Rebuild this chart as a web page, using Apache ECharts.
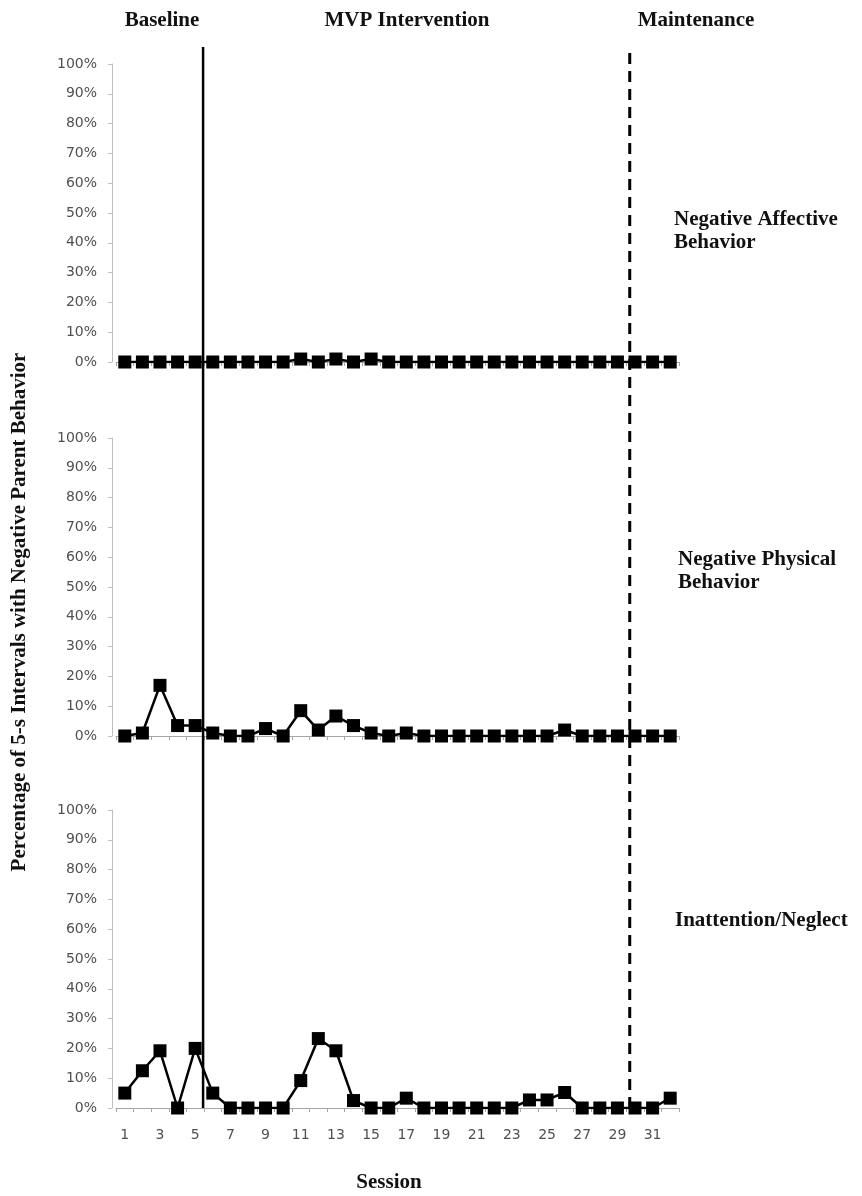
<!DOCTYPE html>
<html>
<head>
<meta charset="utf-8">
<title>Negative Parent Behavior by Session</title>
<script src="https://cdn.jsdelivr.net/npm/echarts@6/dist/echarts.min.js"></script>
<style>
  html, body { margin: 0; padding: 0; background: #fff; }
  #chart { width: 862px; height: 1196px; }
</style>
</head>
<body>
<div id="chart"></div>
<script>
// Sessions 1..32
const sessions = Array.from({ length: 32 }, (_, i) => String(i + 1));

// Percentage of 5-s intervals per session
const negativeAffective = [
  0, 0, 0, 0, 0, 0, 0, 0, 0, 0,
  1, 0, 1, 0, 1, 0, 0, 0, 0, 0,
  0, 0, 0, 0, 0, 0, 0, 0, 0, 0,
  0, 0
];
const negativePhysical = [
  0, 1, 17, 3.5, 3.5, 1, 0, 0, 2.5, 0,
  8.5, 2, 6.7, 3.5, 1, 0, 1, 0, 0, 0,
  0, 0, 0, 0, 0, 2, 0, 0, 0, 0,
  0, 0
];
const inattentionNeglect = [
  5, 12.5, 19.2, 0, 20, 5, 0, 0, 0, 0,
  9.2, 23.3, 19.2, 2.5, 0, 0, 3.3, 0, 0, 0,
  0, 0, 0, 2.7, 2.7, 5.2, 0, 0, 0, 0,
  0, 3.3
];

// Phase-change boundaries (in session units)
const phaseChangeIntervention = 5.45;
const phaseChangeMaintenance = 29.7;

const panelLabels = ['Negative Affective\nBehavior', 'Negative Physical\nBehavior', 'Inattention/Neglect'];
const phaseTitles = ['Baseline', 'MVP Intervention', 'Maintenance'];

const SERIF = '"Liberation Serif", "Times New Roman", serif';
const SANS = '"DejaVu Sans", Verdana, sans-serif';
const TICK_COLOR = '#505050';

const panels = [
  { top: 64, height: 298, data: negativeAffective },
  { top: 438, height: 298, data: negativePhysical },
  { top: 810, height: 298, data: inattentionNeglect }
];
const GRID_LEFT = 116;
const GRID_WIDTH = 563;

const grids = panels.map(p => ({ left: GRID_LEFT, width: GRID_WIDTH, top: p.top, height: p.height }));
// Overlay grid for the phase-change lines spanning all panels
grids.push({ left: GRID_LEFT, width: GRID_WIDTH, top: 47, height: 1108 - 47 });

const xAxes = panels.map((p, i) => ({
  type: 'category',
  gridIndex: i,
  data: sessions,
  boundaryGap: true,
  axisLine: { show: true, lineStyle: { color: '#a6a6a6', width: 1 } },
  axisTick: { show: true, interval: 0, length: 4, lineStyle: { color: '#a6a6a6' } },
  axisLabel: i === 2
    ? { show: true, interval: 1, margin: 20, color: TICK_COLOR, fontFamily: SANS, fontSize: 14 }
    : { show: false },
  splitLine: { show: false }
}));
xAxes.push({ type: 'value', gridIndex: 3, min: 0.5, max: 32.5, show: false });

const yAxes = panels.map((p, i) => ({
  type: 'value',
  gridIndex: i,
  min: 0,
  max: 100,
  interval: 10,
  offset: 4,
  axisLine: { show: true, lineStyle: { color: '#bfbfbf', width: 1 } },
  axisTick: { show: true, length: 4, lineStyle: { color: '#bfbfbf' } },
  axisLabel: { formatter: '{value}%', margin: 15, color: TICK_COLOR, fontFamily: SANS, fontSize: 14 },
  splitLine: { show: false }
}));
yAxes.push({ type: 'value', gridIndex: 3, min: 0, max: 1, show: false });

const series = panels.map((p, i) => ({
  type: 'line',
  xAxisIndex: i,
  yAxisIndex: i,
  data: p.data,
  symbol: 'rect',
  symbolSize: 13,
  showSymbol: true,
  showAllSymbol: true,
  itemStyle: { color: '#000' },
  lineStyle: { color: '#000', width: 2.5 },
  silent: true,
  z: 3
}));
series.push({
  type: 'line',
  xAxisIndex: 3,
  yAxisIndex: 3,
  data: [[phaseChangeIntervention, 0], [phaseChangeIntervention, 1]],
  symbol: 'none',
  lineStyle: { color: '#000', width: 2.5 },
  silent: true,
  z: 5
});
series.push({
  type: 'line',
  xAxisIndex: 3,
  yAxisIndex: 3,
  data: [[phaseChangeMaintenance, 0], [phaseChangeMaintenance, 1]],
  symbol: 'none',
  lineStyle: { color: '#000', width: 3, type: [11, 7] },
  silent: true,
  z: 5
});

function label(text, x, y, opts) {
  return {
    type: 'text',
    x: x,
    y: y,
    silent: true,
    style: Object.assign({
      text: text,
      font: 'bold 21px ' + SERIF,
      fill: '#111',
      textAlign: 'center',
      textVerticalAlign: 'middle',
      verticalAlign: 'middle'
    }, opts || {})
  };
}

const graphics = [
  label(phaseTitles[0], 162, 21),
  label(phaseTitles[1], 407, 21),
  label(phaseTitles[2], 696, 21),
  label(panelLabels[0], 674, 208, { textAlign: 'left', textVerticalAlign: 'top', verticalAlign: 'top', lineHeight: 23 }),
  label(panelLabels[1], 678, 548, { textAlign: 'left', textVerticalAlign: 'top', verticalAlign: 'top', lineHeight: 23 }),
  label(panelLabels[2], 675, 921, { textAlign: 'left' }),
  label('Session', 389, 1183),
  Object.assign(label('Percentage of 5-s Intervals with Negative Parent Behavior', 20, 612), { rotation: Math.PI / 2 })
];

const chart = echarts.init(document.getElementById('chart'), null, { renderer: 'canvas' });
chart.setOption({
  animation: false,
  backgroundColor: '#fff',
  grid: grids,
  xAxis: xAxes,
  yAxis: yAxes,
  series: series,
  graphic: graphics
});
</script>
</body>
</html>
